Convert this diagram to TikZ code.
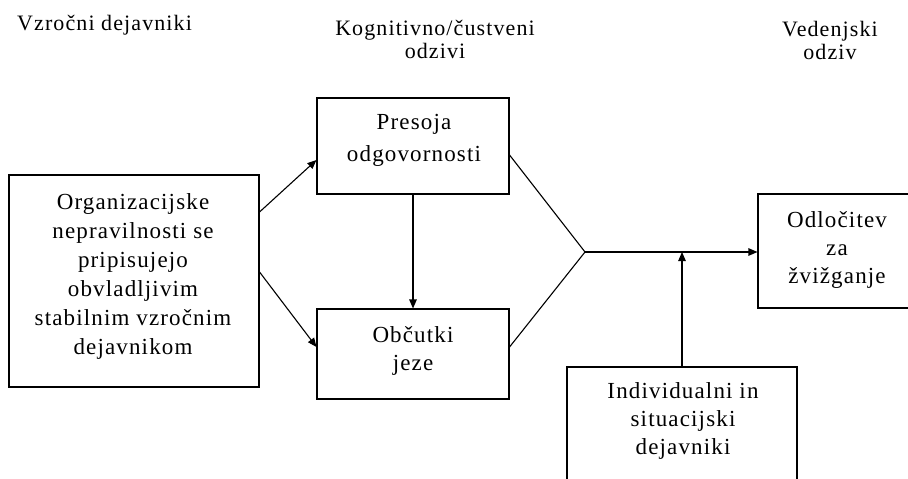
\documentclass[tikz,border=0pt]{standalone}
\usepackage{fontspec}
\setmainfont{Liberation Serif}[LetterSpace=5]
\usetikzlibrary{arrows.meta}
\begin{document}
\begin{tikzpicture}[x=1pt,y=-1pt,
  frame/.style={draw, line width=1.1pt, inner sep=0pt, rectangle},
  txt/.style={align=center, inner sep=0pt, font=\fontsize{23}{#1}\selectfont},
  txt/.default=28,
  head/.style={align=center, inner sep=0pt, font=\fontsize{22}{23}\selectfont},
  link/.style={line width=1.1pt},
  arr/.style={line width=1.1pt, -{Triangle[length=9pt,width=7.5pt]}}]
\path[use as bounding box, clip] (0,0) rectangle (908,479);
\fill[white] (0,0) rectangle (908,479);

% headers
\node[head, anchor=base west] (h1) at (17,30) {Vzročni dejavniki};
\node[head] (h2) at (435,39) {Kognitivno/čustveni\\odzivi};
\node[head] (h3) at (830,40) {Vedenjski\\odziv};

% boxes
\node[frame, minimum width=250pt, minimum height=212pt] (lb) at (134,281) {};
\node[frame, minimum width=192pt, minimum height=96pt] (pr) at (413,146) {};
\node[frame, minimum width=192pt, minimum height=90pt] (ob) at (413,354) {};
\node[frame, minimum width=160pt, minimum height=114pt] (od) at (838,251) {};
\node[frame, minimum width=230pt, minimum height=140pt] (ind) at (682,437) {};

% texts
\node[txt=29] (lbt) at (133,276) {Organizacijske\\nepravilnosti se\\pripisujejo\\obvladljivim\\stabilnim vzročnim\\dejavnikom};
\node[txt=32] (prt) at (414,140) {Presoja\\odgovornosti};
\node[txt] (obt) at (413,351) {Občutki\\jeze};
\node[txt] (odt) at (837,250) {Odločitev\\za\\žvižganje};
\node[txt] (indt) at (683,421) {Individualni in\\situacijski\\dejavniki};

% junction
\coordinate (J) at (585,252);

% connectors
\draw[arr] ([yshift=69pt]lb.east) -- ([yshift=-14pt]pr.west);
\draw[arr] ([yshift=9pt]lb.east) -- ([yshift=7pt]ob.west);
\draw[arr] (pr.south) -- (ob.north);
\draw[link] ([yshift=-9pt]pr.east) -- (J);
\draw[link] ([yshift=7pt]ob.east) -- (J);
\draw[arr] (J) -- (J -| od.west);
\draw[arr] (ind.north) -- (ind.north |- J);
\end{tikzpicture}
\end{document}
